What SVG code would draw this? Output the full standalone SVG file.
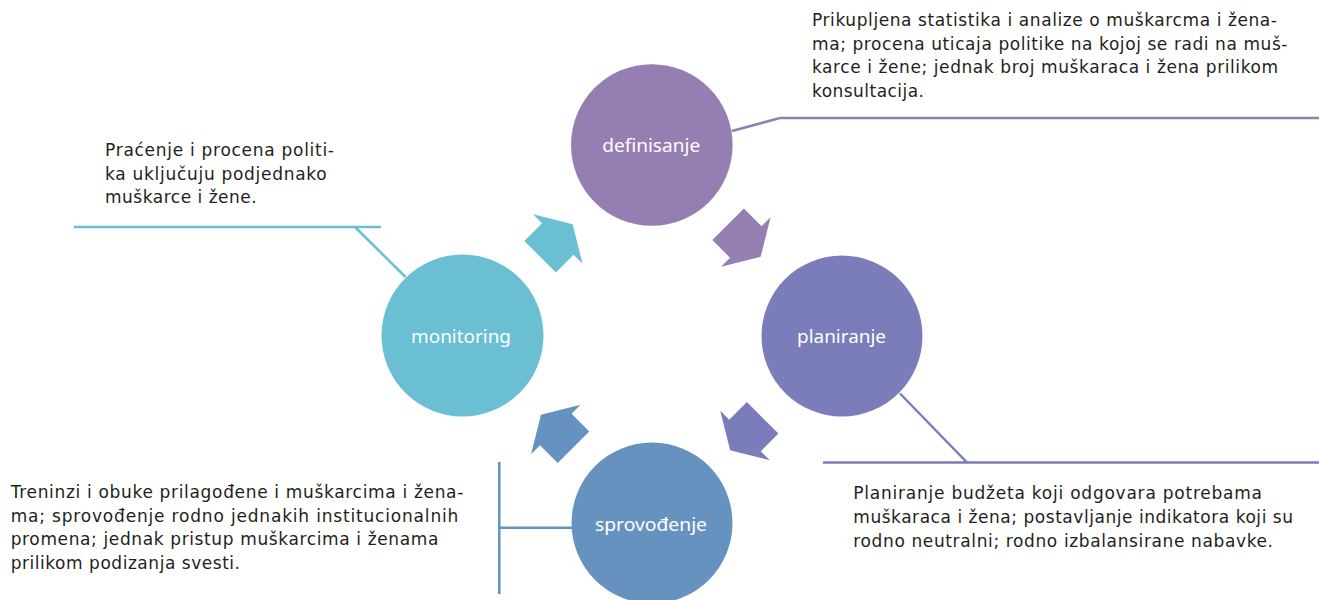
<svg xmlns="http://www.w3.org/2000/svg" width="1319" height="600" viewBox="0 0 1319 600">
<defs>
<style>
.body{font-family:"DejaVu Sans","Noto Sans",sans-serif;font-size:17px;fill:#231F20}
.lbl{font-family:"Noto Sans","DejaVu Sans",sans-serif;font-size:18px;fill:#FFFFFF;text-anchor:middle}
.ln{fill:none;stroke-width:2.5}
</style>
<polygon id="arr" points="-25,-22.3 0,-22.3 0,-35 21,0 0,35 0,22.3 -25,22.3"/>
</defs>
<rect width="1319" height="600" fill="#FFFFFF"/>
<g id="connectors">
<polyline class="ln" stroke="#957EB2" points="732,131 780,118 1319,118"/>
<polyline class="ln" stroke="#6BBFD3" points="405.5,277 355,227"/>
<line class="ln" stroke="#6BBFD3" x1="74" y1="227" x2="381" y2="227"/>
<polyline class="ln" stroke="#7B7CBA" points="900,393.5 967,462.5"/>
<line class="ln" stroke="#7B7CBA" x1="823" y1="462.5" x2="1319" y2="462.5"/>
<line class="ln" stroke="#6592BE" x1="499.3" y1="462" x2="499.3" y2="594"/>
<line class="ln" stroke="#6592BE" x1="499.3" y1="527.7" x2="573" y2="527.7"/>
<use href="#arr" fill="#6BBFD3" transform="translate(557.8,239.1) rotate(-45)"/>
<use href="#arr" fill="#957EB2" transform="translate(745.8,242) rotate(45)"/>
<use href="#arr" fill="#7B7CBA" transform="translate(745,435.5) rotate(135)"/>
<use href="#arr" fill="#6592BE" transform="translate(555.8,429.6) rotate(-135)"/>
</g>
<g id="definisanje">
<circle cx="651.8" cy="145" r="80.8" fill="#957EB2"/>
<text class="lbl" x="651.2" y="152.3" textLength="98" lengthAdjust="spacingAndGlyphs">definisanje</text>
</g>
<g id="planiranje">
<circle cx="842" cy="336" r="80.5" fill="#7B7CBA"/>
<text class="lbl" x="841.5" y="343.3" textLength="89" lengthAdjust="spacingAndGlyphs">planiranje</text>
</g>
<g id="sprovodjenje">
<circle cx="652" cy="523" r="80.5" fill="#6592BE"/>
<text class="lbl" x="651" y="530.7" textLength="112" lengthAdjust="spacingAndGlyphs">sprovođenje</text>
</g>
<g id="monitoring">
<circle cx="462.5" cy="335.5" r="81" fill="#6BBFD3"/>
<text class="lbl" x="461" y="343.3" textLength="100" lengthAdjust="spacingAndGlyphs">monitoring</text>
</g>
<g id="note-definisanje" class="body">
<text x="812" y="26" textLength="465" lengthAdjust="spacing">Prikupljena statistika i analize o muškarcma i žena-</text>
<text x="812" y="49.5" textLength="475.5" lengthAdjust="spacing">ma; procena uticaja politike na kojoj se radi na muš-</text>
<text x="812" y="73" textLength="466" lengthAdjust="spacing">karce i žene; jednak broj muškaraca i žena prilikom</text>
<text x="812" y="96.5" textLength="112" lengthAdjust="spacing">konsultacija.</text>
</g>
<g id="note-monitoring" class="body">
<text x="105" y="156" textLength="229" lengthAdjust="spacing">Praćenje i procena politi-</text>
<text x="105" y="179.5" textLength="221.7" lengthAdjust="spacing">ka uključuju podjednako</text>
<text x="105" y="203" textLength="151.7" lengthAdjust="spacing">muškarce i žene.</text>
</g>
<g id="note-planiranje" class="body">
<text x="853.3" y="499.3" textLength="408.7" lengthAdjust="spacing">Planiranje budžeta koji odgovara potrebama</text>
<text x="853.3" y="523" textLength="439.7" lengthAdjust="spacing">muškaraca i žena; postavljanje indikatora koji su</text>
<text x="853.3" y="546.7" textLength="419.7" lengthAdjust="spacing">rodno neutralni; rodno izbalansirane nabavke.</text>
</g>
<g id="note-sprovodjenje" class="body">
<text x="10.7" y="498" textLength="452.6" lengthAdjust="spacing">Treninzi i obuke prilagođene i muškarcima i žena-</text>
<text x="10.7" y="521.5" textLength="447.6" lengthAdjust="spacing">ma; sprovođenje rodno jednakih institucionalnih</text>
<text x="10.7" y="545" textLength="427.6" lengthAdjust="spacing">promena; jednak pristup muškarcima i ženama</text>
<text x="10.7" y="568.5" textLength="229.3" lengthAdjust="spacing">prilikom podizanja svesti.</text>
</g>
</svg>
